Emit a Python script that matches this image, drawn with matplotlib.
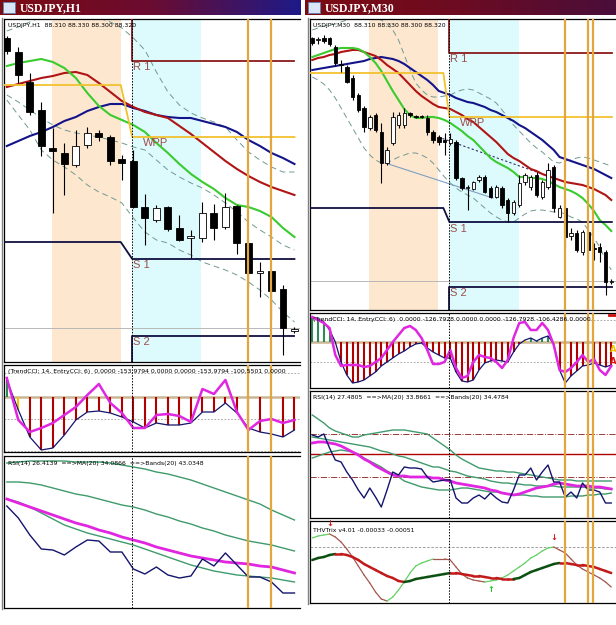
import numpy as np
import matplotlib.pyplot as plt
from matplotlib.collections import LineCollection
from matplotlib.colors import LinearSegmentedColormap
from matplotlib.patches import Rectangle

W, H = 616, 625

# ---------------------------------------------------------------
# USDJPY H1 (left window). Levels are read off the screenshot and
# measured downward from the top of the picture (price falls as the
# number grows), one value per candle.
# ---------------------------------------------------------------
h1_open  = [38, 52, 82, 110, 148, 153, 165, 145, 133, 137, 159, 161, 207, 220, 207, 228, 238, 238, 213, 227, 206, 243, 273, 271, 289, 331]
h1_high  = [36, 47, 73, 102, 128, 143, 130, 127, 130, 135, 155, 150, 194, 205, 206, 215, 230, 202, 204, 193, 205, 242, 262, 270, 285, 327]
h1_low   = [54, 83, 115, 156, 213, 195, 167, 148, 141, 165, 180, 208, 245, 222, 231, 241, 258, 242, 240, 229, 254, 288, 297, 319, 355, 333]
h1_close = [51, 75, 112, 146, 151, 164, 146, 133, 137, 161, 163, 207, 218, 208, 229, 240, 236, 213, 228, 207, 243, 273, 271, 291, 328, 329]

h1_ma_fast = [66, 63, 61, 59, 62, 68, 78, 93, 106, 115, 120, 125, 132, 143, 153, 164, 174, 182, 189, 198, 205, 207, 211, 217, 228, 237]
h1_ma_mid  = [87, 84, 81, 78, 76, 73, 72, 75, 83, 92, 101, 107, 112, 115, 118, 126, 134, 143, 152, 161, 169, 176, 182, 187, 191, 195]
h1_ma_slow = [146, 141, 136, 132, 127, 121, 117, 111, 107, 104, 104, 108, 111, 115, 117, 118, 118, 121, 124, 127, 132, 140, 146, 153, 158, 164]
h1_env_up  = [31, 27, 22, 17, 14, 12, 12, 14, 18, 22, 28, 38, 50, 72, 92, 105, 113, 118, 122, 127, 140, 152, 160, 167, 172, 172]
h1_env_mid = [95, 102, 110, 118, 125, 130, 133, 135, 137, 140, 143, 147, 150, 160, 170, 177, 183, 188, 195, 203, 212, 222, 230, 237, 245, 250]
h1_env_low = [100, 115, 130, 150, 160, 167, 175, 185, 192, 197, 203, 218, 232, 240, 243, 250, 255, 262, 266, 270, 275, 282, 290, 300, 312, 322]

h1_bid = 328
h1_pivots = {'R 1': (None, 61), 'WPP': (85, 137), 'S 1': (242, 259), 'S 2': (None, 336)}
h1_day_break = (9.9, 10.9)
h1_asia = (3.9, 9.9)
h1_europe = (10.9, 16.9)
h1_marks = [20.95, 22.95]

h1_cci_zero = 397
h1_cci_levels = [373, 419, 451]
h1_trend_cci = [380, 410, 437, 450, 448, 435, 420, 412, 411, 413, 417, 422, 428, 423, 425, 425, 423, 412, 412, 403, 413, 428, 432, 434, 437, 430]
h1_entry_cci = [378, 420, 432, 428, 423, 415, 407, 395, 384, 403, 413, 428, 428, 415, 414, 416, 422, 389, 394, 380, 412, 430, 421, 419, 423, 420]

h1_rsi      = [506, 518, 535, 549, 550, 555, 547, 540, 541, 552, 552, 569, 574, 567, 575, 578, 576, 559, 566, 553, 565, 577, 577, 582, 593, 593]
h1_rsi_ma   = [499, 503, 507, 511, 515, 519, 523, 526, 530, 533, 537, 540, 543, 547, 550, 553, 556, 558, 560, 562, 563, 564, 566, 567, 570, 573]
h1_band_up  = [463, 462, 461, 461, 461, 461, 462, 462, 462, 463, 465, 467, 469, 472, 474, 477, 480, 484, 488, 492, 496, 500, 504, 510, 515, 520]
h1_band_mid = [482, 482, 483, 485, 488, 491, 494, 496, 499, 502, 505, 507, 510, 514, 517, 521, 524, 528, 531, 535, 538, 541, 543, 545, 548, 551]
h1_band_low = [499, 502, 507, 513, 519, 525, 529, 533, 536, 539, 542, 545, 549, 553, 557, 561, 565, 568, 571, 573, 575, 576, 577, 578, 580, 582]

# ---------------------------------------------------------------
# USDJPY M30 (right window)
# ---------------------------------------------------------------
m30_open  = [38, 40, 38, 38, 47, 64, 67, 78, 95, 108, 128, 115, 132, 163, 143, 125, 125, 113, 116, 116, 118, 132, 137, 140, 143, 142, 178,
             188, 189, 180, 177, 188, 197, 188, 200, 213, 205, 182, 187, 175, 197, 187, 167, 217, 208, 236, 233, 252, 232, 248, 247, 252, 282]
m30_close = [43, 39, 41, 44, 63, 65, 82, 97, 110, 127, 117, 130, 163, 150, 117, 115, 113, 115, 117, 117, 132, 140, 142, 142, 139, 178, 188,
             187, 182, 177, 192, 197, 187, 205, 213, 202, 183, 175, 177, 195, 182, 170, 208, 208, 237, 233, 250, 232, 250, 249, 252, 282, 281]
m30_high  = [37, 37, 35, 37, 45, 60, 65, 75, 93, 106, 115, 113, 123, 147, 112, 112, 108, 112, 115, 115, 115, 130, 135, 133, 133, 140, 177,
             185, 181, 175, 175, 186, 185, 186, 198, 200, 175, 173, 175, 172, 180, 163, 165, 205, 206, 228, 230, 230, 230, 243, 243, 250, 279]
m30_low   = [45, 44, 43, 46, 66, 72, 83, 100, 112, 132, 130, 132, 183, 165, 145, 128, 128, 117, 118, 118, 135, 143, 145, 155, 145, 180, 190,
             210, 190, 182, 193, 198, 198, 208, 222, 215, 207, 185, 190, 197, 199, 189, 212, 218, 247, 240, 252, 255, 257, 260, 262, 295, 284]

m30_ma_fast = [57, 55, 53, 51, 49, 48, 48, 48, 49, 52, 57, 63, 71, 81, 91, 100, 109, 115, 118, 118, 117, 117, 118, 120, 123, 127, 131,
               136, 140, 146, 152, 158, 162, 165, 168, 172, 177, 177, 178, 178, 179, 181, 184, 187, 189, 191, 194, 198, 204, 211, 220, 225, 231]
m30_ma_mid  = [60, 58, 57, 55, 54, 52, 51, 50, 50, 52, 54, 56, 60, 65, 69, 73, 79, 85, 91, 96, 100, 104, 107, 108, 109, 112, 115,
               119, 122, 127, 132, 137, 142, 148, 154, 158, 161, 165, 169, 171, 174, 176, 178, 180, 182, 183, 184, 185, 187, 189, 192, 195, 200]
m30_ma_slow = [70, 69, 68, 67, 66, 65, 64, 63, 62, 61, 59, 58, 57, 58, 59, 61, 64, 68, 72, 76, 80, 85, 91, 93, 95, 98, 100,
               102, 103, 105, 107, 110, 112, 115, 118, 121, 125, 128, 132, 136, 140, 145, 150, 157, 159, 161, 163, 165, 167, 169, 172, 175, 178]
m30_env_up  = [30, 28, 26, 25, 24, 22, 20, 18, 17, 16, 16, 18, 20, 24, 30, 40, 55, 70, 83, 90, 95, 97, 97, 96, 95, 92, 90,
               89, 90, 93, 96, 99, 103, 110, 117, 125, 131, 137, 143, 148, 152, 157, 162, 163, 161, 160, 158, 157, 158, 160, 162, 164, 166]
m30_env_low = [77, 80, 84, 90, 98, 108, 118, 128, 138, 148, 155, 160, 163, 163, 160, 157, 155, 153, 153, 155, 158, 163, 170, 177, 183, 188, 192,
               195, 198, 203, 208, 213, 217, 220, 222, 222, 218, 214, 211, 210, 210, 211, 212, 212, 214, 217, 219, 222, 230, 238, 247, 260, 270]
m30_channel = ([12.7, 31.4], [163, 198])
m30_trend   = ([21.9, 42.9], [137, 180])

m30_bid = 281
m30_pivots = {'R 1': (None, 53), 'WPP': (73, 117), 'S 1': (208, 222), 'S 2': (None, 287)}
m30_day_break = (22.8, 23.85)
m30_asia = (9.9, 21.9)
m30_europe = (23.85, 35.9)
m30_marks = [43.93, 47.94, 48.8]

m30_cci_zero = 342
m30_cci_levels = [320, 362]
m30_trend_cci = [317, 319, 322, 330, 342, 362, 375, 383, 382, 380, 376, 372, 366, 362, 358, 354, 351, 347, 344, 343, 348, 352, 355, 358, 358, 372, 381,
                 382, 380, 370, 363, 361, 360, 361, 362, 352, 344, 340, 338, 341, 338, 336, 344, 370, 383, 376, 371, 366, 365, 363, 365, 367, 365]
m30_entry_cci = [317, 320, 323, 328, 355, 366, 365, 365, 365, 367, 366, 362, 358, 350, 342, 335, 328, 326, 330, 338, 350, 364, 364, 362, 350, 368, 378,
                 376, 362, 355, 357, 358, 362, 368, 360, 338, 323, 322, 330, 330, 323, 330, 345, 370, 372, 368, 362, 355, 362, 359, 370, 375, 366]

m30_rsi_levels = [434, 454, 477]
m30_rsi      = [435, 437, 434, 448, 460, 462, 472, 480, 490, 498, 488, 497, 507, 490, 472, 475, 467, 468, 468, 469, 477, 482, 481, 480, 480, 498, 503,
                503, 498, 495, 499, 493, 498, 502, 503, 490, 475, 475, 468, 480, 472, 465, 482, 482, 497, 492, 498, 483, 490, 490, 492, 503, 503]
m30_rsi_ma   = [443, 442, 442, 443, 444, 446, 449, 452, 455, 459, 462, 466, 469, 472, 475, 476, 476, 477, 477, 477, 477, 478, 478, 480, 481, 483, 484,
                485, 486, 487, 488, 490, 491, 493, 494, 495, 494, 492, 490, 488, 487, 486, 484, 483, 484, 485, 486, 486, 486, 487, 487, 488, 489]
m30_band_up  = [415, 419, 423, 428, 431, 433, 435, 437, 437, 435, 434, 433, 432, 431, 430, 430, 430, 431, 432, 433, 434, 438, 442, 446, 450, 455, 459,
                462, 465, 468, 469, 470, 471, 471, 472, 472, 473, 474, 475, 476, 477, 478, 479, 480, 480, 480, 481, 481, 481, 481, 481, 481, 481]
m30_band_mid = [437, 438, 439, 440, 441, 442, 443, 444, 445, 446, 447, 449, 451, 452, 454, 456, 457, 459, 461, 463, 465, 467, 467, 469, 471, 472, 474,
                476, 477, 478, 479, 481, 482, 483, 483, 484, 484, 485, 485, 486, 486, 486, 486, 487, 487, 487, 487, 487, 488, 488, 488, 489, 489]
m30_band_low = [458, 456, 454, 452, 451, 450, 451, 452, 454, 458, 461, 464, 467, 471, 474, 477, 481, 483, 485, 487, 488, 489, 490, 490, 490, 489, 488,
                488, 489, 490, 491, 492, 492, 493, 494, 495, 495, 495, 496, 496, 497, 497, 497, 497, 497, 496, 496, 496, 495, 495, 494, 494, 493]

m30_thv_zero = 547
m30_thv_signal = [560, 558, 557, 555, 554, 554, 555, 557, 560, 564, 567, 570, 573, 576, 578, 581, 582, 581, 579, 578, 577, 576, 575, 574, 573, 573, 574,
                  575, 576, 576, 577, 578, 578, 579, 579, 579, 578, 575, 572, 570, 568, 566, 564, 563, 563, 564, 565, 565, 566, 567, 569, 571, 573]
m30_thv_trix   = [538, 536, 535, 534, 537, 542, 549, 557, 566, 575, 583, 592, 599, 601, 597, 590, 582, 573, 566, 563, 561, 559, 559, 559, 560, 567, 574,
                  578, 580, 581, 582, 581, 580, 578, 575, 571, 567, 563, 558, 555, 551, 548, 547, 550, 553, 559, 565, 569, 572, 575, 578, 582, 587]
m30_sell_arrows = ([3, 42], [523, 538])
m30_buy_arrows = ([31], [590])

# ---------------------------------------------------------------
fig = plt.figure(figsize=(W / 100, H / 100), dpi=100)
fig.patch.set_facecolor('white')

H1_XLIM = (-0.245, 25.48)
M30_XLIM = (-0.40, 53.0)
PIVOT_TXT = '#9c4f4a'


def panel(x0, y0, x1, y1, xlim):
    ax = fig.add_axes([x0 / W, 1 - y1 / H, (x1 - x0) / W, (y1 - y0) / H])
    ax.set_xlim(*xlim)
    ax.set_ylim(y1, y0)
    ax.set_xticks([])
    ax.set_yticks([])
    ax.spines['right'].set_visible(False)
    for s in ax.spines.values():
        s.set_linewidth(0.9)
    return ax


def title_bar(x0, x1, label, colors):
    ax = fig.add_axes([x0 / W, 1 - 15 / H, (x1 - x0) / W, 15 / H])
    ax.imshow(np.linspace(0, 1, 256)[None, :], aspect='auto', extent=[0, 1, 0, 1],
              cmap=LinearSegmentedColormap.from_list('bar', colors))
    ax.set_xlim(0, 1)
    ax.set_ylim(0, 1)
    ax.axis('off')
    w = x1 - x0
    ax.add_patch(Rectangle((3 / w, 0.12), 12 / w, 0.76, facecolor='#d8e6f6', edgecolor='#6080b0', lw=0.6))
    ax.text(20 / w, 0.45, label, color='white', fontsize=8.5, fontweight='bold',
            family='Liberation Serif', va='center')


def separators(ax, brk, marks):
    ax.axvline(brk, color='black', lw=0.7, ls=(0, (1.5, 1.5)), zorder=6)
    for m in marks:
        ax.axvline(m, color='#e2a63c', lw=1.6, zorder=6)


def candles(ax, o, h, l, c, width):
    o, h, l, c = (np.asarray(v, float) for v in (o, h, l, c))
    x = np.arange(len(o))
    ax.vlines(x, h, l, color='black', lw=0.8, zorder=4)
    bear = c > o
    lo = np.minimum(o, c)
    ht = np.maximum(np.abs(c - o), 1.2)
    ax.bar(x, ht, width, bottom=lo, color=np.where(bear, 'black', 'white'),
           edgecolor='black', lw=0.6, zorder=5)


def pivots(ax, levels, brk, end, top, bottom, label_dx, fs):
    colors = {'R 1': '#8b1a1a', 'WPP': '#f2c12e', 'S 1': '#101040', 'S 2': '#101040'}
    x0 = ax.get_xlim()[0]
    for name, (prev, today) in levels.items():
        col = colors[name]
        if prev is None:
            edge = top if name.startswith('R') else bottom
            ax.plot([brk[1], brk[1], end], [edge, today, today], color=col, lw=1.3, zorder=3)
        else:
            ax.plot([x0, brk[0], brk[1], end], [prev, prev, today, today], color=col, lw=1.3, zorder=3)
        dx = label_dx if name == 'WPP' else 0.05
        ax.text(brk[1] + dx, today + 1.5, name, color=PIVOT_TXT, fontsize=fs,
                family='Liberation Sans', va='top', ha='left', zorder=7)


def cci_bars(ax, trend, zero):
    cols = []
    for k, v in enumerate(trend):
        above = v < zero
        prev_above = (trend[k - 1] < zero) if k else above
        if above != prev_above:
            cols.append('#f2c400')
        else:
            cols.append('#2e8b57' if above else '#b00000')
    ax.vlines(np.arange(len(trend)), zero, trend, colors=cols, lw=1.5, zorder=2)


def slope_line(ax, y, up, down, lw):
    y = np.asarray(y, float)
    x = np.arange(len(y))
    pts = np.column_stack([x, y])
    segs = np.stack([pts[:-1], pts[1:]], axis=1)
    cols = [up if y[k + 1] < y[k] else down for k in range(len(y) - 1)]
    ax.add_collection(LineCollection(segs, colors=cols, linewidths=lw, capstyle='round', zorder=3))


TXT = dict(fontsize=4.4, color='black', va='center', ha='left', zorder=8)

# ================= left window: H1 =================
title_bar(0, 301, 'USDJPY,H1', ['#7c0b12', '#6b0c30', '#1e1a88'])
n1 = np.arange(len(h1_open))

ax = panel(4, 19, 300, 362, H1_XLIM)
ax.axvspan(*h1_asia, color='#fde7cf', lw=0, zorder=0)
ax.axvspan(*h1_europe, color='#ddfafd', lw=0, zorder=0)
ax.axhline(h1_bid, color='#b8b8b8', lw=0.7, zorder=1)
for band in (h1_env_up, h1_env_mid, h1_env_low):
    ax.plot(n1, band, color='#6f9a90', lw=0.7, ls=(0, (6, 4)), zorder=2)
ax.plot(n1, h1_ma_slow, color='#14148a', lw=1.5, zorder=3)
ax.plot(n1, h1_ma_mid, color='#b01414', lw=1.5, zorder=3)
ax.plot(n1, h1_ma_fast, color='#3acb2e', lw=1.5, zorder=3)
pivots(ax, h1_pivots, h1_day_break, 25.0, 19, 362, 0.95, 8)
candles(ax, h1_open, h1_high, h1_low, h1_close, 0.6)
separators(ax, h1_day_break[1], h1_marks)
ax.text(0.1, 26, 'USDJPY,H1  88.310 88.330 88.300 88.320', **TXT)

ax = panel(4, 365, 300, 452, H1_XLIM)
ax.axhline(h1_cci_zero, color='#c9b795', lw=1.8, zorder=1)
for lv in h1_cci_levels:
    ax.axhline(lv, color='#9a9a9a', lw=0.6, ls=(0, (2, 2)), zorder=1)
cci_bars(ax, h1_trend_cci, h1_cci_zero)
ax.plot(n1, h1_trend_cci, color='#14146e', lw=0.9, zorder=3)
ax.plot(n1, h1_entry_cci, color='#e026e0', lw=1.8, zorder=4)
separators(ax, h1_day_break[1], h1_marks)
ax.text(0.1, 372, '(TrendCCI: 14, EntryCCI: 6)  0.0000 -153.9794 0.0000 0.0000 -153.9794 -100.5501 0.0000', **TXT)

ax = panel(4, 456, 300, 608, H1_XLIM)
for band in (h1_band_up, h1_band_mid, h1_band_low):
    ax.plot(n1, band, color='#3f9a6c', lw=1.0, zorder=2)
ax.plot(n1, h1_rsi_ma, color='#e026e0', lw=2.0, zorder=3)
ax.plot(n1, h1_rsi, color='#14146e', lw=1.0, zorder=4)
separators(ax, h1_day_break[1], h1_marks)
ax.text(0.1, 464, 'RSI(14) 26.4139  ==>MA(20) 34.0866  ==>Bands(20) 43.0348', **TXT)

# ================= right window: M30 =================
title_bar(305, 616, 'USDJPY,M30', ['#7c0b12', '#6c0b22', '#4a0e3a'])
n2 = np.arange(len(m30_open))

ax = panel(310, 19, 617, 310, M30_XLIM)
ax.axvspan(*m30_asia, color='#fde7cf', lw=0, zorder=0)
ax.axvspan(*m30_europe, color='#ddfafd', lw=0, zorder=0)
ax.axhline(m30_bid, color='#b8b8b8', lw=0.7, zorder=1)
for band in (m30_env_up, m30_env_low):
    ax.plot(n2, band, color='#6f9a90', lw=0.7, ls=(0, (6, 4)), zorder=2)
ax.plot(*m30_channel, color='#7f9fc0', lw=0.8, zorder=2)
ax.plot(*m30_trend, color='#303060', lw=0.8, ls=(0, (2, 2)), zorder=2)
ax.plot(n2, m30_ma_slow, color='#14148a', lw=1.5, zorder=3)
ax.plot(n2, m30_ma_mid, color='#b01414', lw=1.5, zorder=3)
ax.plot(n2, m30_ma_fast, color='#3acb2e', lw=1.5, zorder=3)
pivots(ax, m30_pivots, m30_day_break, 52.1, 19, 310, 1.9, 8)
candles(ax, m30_open, m30_high, m30_low, m30_close, 0.6)
separators(ax, m30_day_break[1], m30_marks)
ax.text(0.1, 25, 'USDJPY,M30  88.310 88.330 88.300 88.320', **TXT)

ax = panel(310, 313, 617, 388, M30_XLIM)
ax.axhline(m30_cci_zero, color='#c9b795', lw=1.8, zorder=1)
for lv in m30_cci_levels:
    ax.axhline(lv, color='#9a9a9a', lw=0.6, ls=(0, (2, 2)), zorder=1)
cci_bars(ax, m30_trend_cci, m30_cci_zero)
ax.plot(n2, m30_trend_cci, color='#14146e', lw=0.9, zorder=3)
ax.plot(n2, m30_entry_cci, color='#e026e0', lw=1.8, zorder=4)
separators(ax, m30_day_break[1], m30_marks)
ax.text(52.85, 349, 'A', color='#f2c400', fontsize=6, fontweight='bold', va='center', ha='right', zorder=8)
ax.text(52.85, 362, 'A', color='#e01010', fontsize=6, fontweight='bold', va='center', ha='right', zorder=8)
ax.plot([51.6, 53], [314.5, 314.5], color='#d01010', lw=2, zorder=8)
ax.text(0.1, 320, '(TrendCCI: 14, EntryCCI: 6)  0.0000 -126.7928 0.0000 0.0000 -126.7928 -106.4286 0.0000', **TXT)

ax = panel(310, 391, 617, 518, M30_XLIM)
ax.axhline(m30_rsi_levels[0], color='#9a3a3a', lw=0.7, ls='-.', zorder=1)
ax.axhline(m30_rsi_levels[1], color='#b00000', lw=1.0, zorder=1)
ax.axhline(m30_rsi_levels[2], color='#9a3a3a', lw=0.7, ls='-.', zorder=1)
for band in (m30_band_up, m30_band_mid, m30_band_low):
    ax.plot(n2, band, color='#3f9a6c', lw=1.0, zorder=2)
ax.plot(n2, m30_rsi_ma, color='#e026e0', lw=2.0, zorder=3)
ax.plot(n2, m30_rsi, color='#14146e', lw=1.0, zorder=4)
separators(ax, m30_day_break[1], m30_marks)
ax.text(0.1, 397, 'RSI(14) 27.4805  ==>MA(20) 33.8661  ==>Bands(20) 34.4784', **TXT)

ax = panel(310, 521, 617, 603, M30_XLIM)
ax.axhline(m30_thv_zero, color='#8c8c8c', lw=0.6, ls=(0, (3, 2)), zorder=1)
slope_line(ax, m30_thv_trix, '#63d063', '#a4564e', 0.9)
slope_line(ax, m30_thv_signal, '#0c4f12', '#c21a1a', 1.8)
for xi, yi in zip(*m30_sell_arrows):
    ax.text(xi, yi, '\u2193', color='#d01818', fontsize=6, fontweight='bold', ha='center', va='center', zorder=8)
for xi, yi in zip(*m30_buy_arrows):
    ax.text(xi, yi, '\u2191', color='#22cc22', fontsize=6, fontweight='bold', ha='center', va='center', zorder=8)
separators(ax, m30_day_break[1], m30_marks)
ax.text(0.1, 530, 'THVTrix v4.01 -0.00033 -0.00051', **TXT)

# window frame edges
fig.add_artist(plt.Line2D([1.5 / W, 1.5 / W], [1 - 18 / H, 1 - 609 / H], color='#808080', lw=1.0))
fig.add_artist(plt.Line2D([307.5 / W, 307.5 / W], [1 - 18 / H, 1 - 604 / H], color='#808080', lw=1.0))

fig.savefig('out.png', dpi=100, facecolor='white')
